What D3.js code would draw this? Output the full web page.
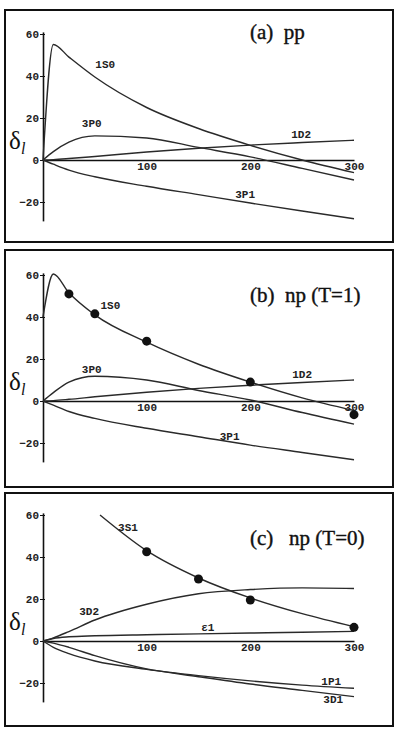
<!DOCTYPE html>
<html lang="en">
<head>
  <meta charset="UTF-8">
  <title>Phase shifts</title>
  <style>
    body { margin: 0; background: #fff; }
    svg { display: block; }
  </style>
</head>
<body>
  <svg class="chart"></svg>
  <script src="https://cdn.jsdelivr.net/npm/d3@7"></script>
  <script>
    // lab energy grid (MeV) shared by most curves
    let energies = [0, 10, 25, 50, 100, 150, 200, 250, 300]

    // (a) pp
    let ppS0 = [0, 55, 49, 39.5, 25, 15, 7, 0, -6]
    let ppP0 = [0, 4, 8.5, 11.5, 10.5, 6, 1.5, -4, -9.5]
    let ppD2 = [0, 0.2, 0.7, 1.7, 3.8, 5.6, 7.1, 8.3, 9.4]
    let ppP1 = [0, -2, -4.8, -8, -12.5, -16.5, -20.5, -24.3, -28]

    // (b) np (T=1)
    let npS0 = [40, 60.5, 51.5, 41, 28, 17.5, 9, 1.5, -4.5]
    let npP0 = [0, 4, 9, 11.8, 10, 5, 0.5, -5.5, -11]
    let npD2 = [0, 0.2, 0.8, 2, 4.2, 6, 7.5, 8.8, 10]
    let npP1 = [0, -2, -5, -8.3, -13, -17, -21, -24.5, -28]
    let npDotE = [25, 50, 100, 200, 300]
    let npDotS0 = [51, 41.5, 28.5, 9, -6.5]

    // (c) np (T=0)
    let t0S1E = [55, 100, 150, 200, 250, 300]
    let t0S1 = [60, 43, 30, 20.5, 13, 6.8]
    let t0D2 = [0, 1.5, 4.5, 10, 17.5, 22.5, 24.5, 25.3, 25]
    let t0Eps = [0, 1.2, 2, 2.5, 3, 3.4, 3.8, 4.2, 4.6]
    let t0P1 = [0, -3, -6, -9.5, -13.5, -16.5, -19, -21, -22.5]
    let t0D1 = [0, -1, -3, -7, -13.3, -17, -20.5, -23.5, -26.5]
    let t0DotE = [100, 150, 200, 300]
    let t0DotS1 = [42.5, 29.5, 19.5, 6.5]

    let yTicks = [-20, 0, 20, 40, 60]
    let xTicks = [100, 200, 300]

    let zip = (xs, ys) => xs.map((e, i) => [e, ys[i]])

    // layout of the three stacked panels
    let panels = [
      {
        title: '(a)  pp', zero: 160, frame: [10, 232], titleY: 39,
        curves: [
          { name: '1S0', pts: zip(energies, ppS0), at: [60, 45] },
          { name: '3P0', pts: zip(energies, ppP0), at: [47, 17] },
          { name: '1D2', pts: zip(energies, ppD2), at: [249, 12] },
          { name: '3P1', pts: zip(energies, ppP1), at: [195, -16.7] }
        ],
        dots: []
      },
      {
        title: '(b)  np (T=1)', zero: 401, frame: [250, 237], titleY: 302,
        curves: [
          { name: '1S0', pts: zip(energies, npS0), at: [65, 45] },
          { name: '3P0', pts: zip(energies, npP0), at: [47, 14.8] },
          { name: '1D2', pts: zip(energies, npD2), at: [250, 12.4] },
          { name: '3P1', pts: zip(energies, npP1), at: [180, -17] }
        ],
        dots: zip(npDotE, npDotS0)
      },
      {
        title: '(c)   np (T=0)', zero: 641, frame: [493, 233], titleY: 545,
        curves: [
          { name: '3S1', pts: zip(t0S1E, t0S1), at: [82, 53.8] },
          { name: '3D2', pts: zip(energies, t0D2), at: [44.5, 13.8] },
          { name: '\u03b51', pts: zip(energies, t0Eps), at: [159, 6.2] },
          { name: '1P1', pts: zip(energies, t0P1), at: [278, -19.5] },
          { name: '3D1', pts: zip(energies, t0D1), at: [280, -28] }
        ],
        dots: zip(t0DotE, t0DotS1)
      }
    ]

    let svgWidth = 397, svgHeight = 741
    let svg = d3.select('svg')
      .attr('width', svgWidth)
      .attr('height', svgHeight)

    svg.append('rect')
      .attr('width', svgWidth)
      .attr('height', svgHeight)
      .attr('fill', '#fff')

    let x = d3.scaleLinear().domain([0, 300]).range([43, 354])
    let pxPerDeg = 2.1

    panels.forEach(p => {
      let y = d3.scaleLinear()
        .domain([-29, 61])
        .range([p.zero + 29 * pxPerDeg, p.zero - 61 * pxPerDeg])

      let g = svg.append('g')

      g.append('rect')
        .attr('x', 5)
        .attr('y', p.frame[0])
        .attr('width', 388)
        .attr('height', p.frame[1])
        .attr('fill', 'none')
        .attr('stroke', '#111')
        .attr('stroke-width', 2)

      // y axis with small ticks and left labels
      let yAxis = g.append('g')
        .attr('transform', `translate(${x(0)},0)`)
        .call(d3.axisLeft(y).tickValues(yTicks).tickSizeInner(3).tickSizeOuter(0).tickPadding(1))
      yAxis.select('.domain').attr('stroke', '#111').attr('stroke-width', 1.6)
      yAxis.selectAll('.tick line').attr('x2', 2).attr('x1', -3).attr('stroke', '#111')
      yAxis.selectAll('.tick text')
        .attr('x', -4)
        .style('font-family', 'Liberation Mono')
        .style('font-size', '11px')
        .style('font-weight', 'bold')
        .attr('fill', '#222')

      // zero line as x axis
      let xAxis = g.append('g')
        .attr('transform', `translate(0,${y(0)})`)
        .call(d3.axisBottom(x).tickValues(xTicks).tickSize(0).tickPadding(2))
      xAxis.select('.domain').attr('stroke', '#111').attr('stroke-width', 1.6)
      xAxis.selectAll('.tick text')
        .style('font-family', 'Liberation Mono')
        .style('font-size', '11px')
        .style('font-weight', 'bold')
        .attr('fill', '#222')

      let line = d3.line()
        .x(d => x(d[0]))
        .y(d => y(d[1]))
        .curve(d3.curveMonotoneX)

      p.curves.forEach(c => {
        g.append('path')
          .attr('d', line(c.pts))
          .attr('fill', 'none')
          .attr('stroke', '#2a2a2a')
          .attr('stroke-width', 1.4)

        g.append('text')
          .attr('x', x(c.at[0]))
          .attr('y', y(c.at[1]))
          .attr('text-anchor', 'middle')
          .attr('dominant-baseline', 'middle')
          .style('font-family', 'Liberation Mono')
          .style('font-size', '11px')
          .style('font-weight', 'bold')
          .attr('fill', '#222')
          .text(c.name)
      })

      g.selectAll('circle.dot')
        .data(p.dots)
        .enter()
        .append('circle')
        .attr('class', 'dot')
        .attr('cx', d => x(d[0]))
        .attr('cy', d => y(d[1]))
        .attr('r', 4.5)
        .attr('fill', '#111')

      g.append('text')
        .attr('x', 250)
        .attr('y', p.titleY)
        .style('white-space', 'pre')
        .style('font-family', 'Liberation Serif')
        .style('font-size', '21px')
        .attr('fill', '#111')
        .attr('stroke', '#111')
        .attr('stroke-width', 0.4)
        .text(p.title)

      // delta_l axis label
      g.append('text')
        .attr('x', 9)
        .attr('y', p.zero - 11)
        .style('font-family', 'Liberation Serif')
        .style('font-size', '25px')
        .attr('fill', '#111')
        .text('\u03b4')
      g.append('text')
        .attr('x', 21)
        .attr('y', p.zero - 6)
        .style('font-family', 'Liberation Serif')
        .style('font-style', 'italic')
        .style('font-size', '16px')
        .attr('fill', '#111')
        .text('l')
    })
  </script>
</body>
</html>
